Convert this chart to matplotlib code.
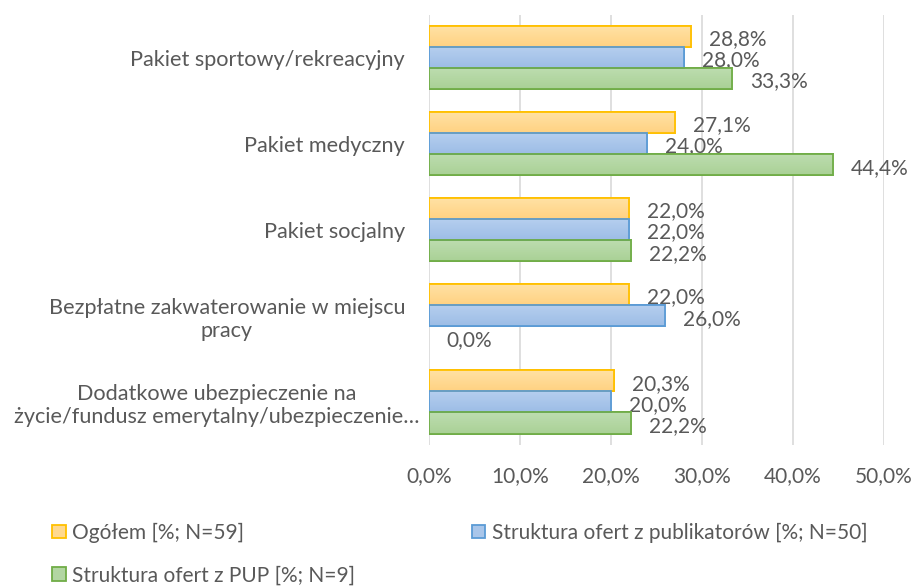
import numpy as np
import matplotlib.pyplot as plt
import matplotlib.transforms as mtransforms
from matplotlib.colors import LinearSegmentedColormap

plt.rcParams['font.family'] = ['Lato', 'DejaVu Sans']

categories = [
    'Pakiet sportowy/rekreacyjny',
    'Pakiet medyczny',
    'Pakiet socjalny',
    'Bezpłatne zakwaterowanie w miejscu\npracy',
    'Dodatkowe ubezpieczenie na\nżycie/fundusz emerytalny/ubezpieczenie…',
]
ogolem = [28.8, 27.1, 22.0, 22.0, 20.3]
publikatory = [28.0, 24.0, 22.0, 26.0, 20.0]
pup = [33.3, 44.4, 22.2, 0.0, 22.2]
series_names = ['Ogółem [%; N=59]',
                'Struktura ofert z publikatorów [%; N=50]',
                'Struktura ofert z PUP [%; N=9]']

# gradient: top colour -> bottom colour (Excel style)
grad_top = ['#FFE2A6', '#B6CFEF', '#BEDDB0']
grad_bot = ['#FFD282', '#9DBDE6', '#A9D196']
fills = ['#FFD98F', '#A9C6EA', '#B2D6A2']
edges = ['#FFC000', '#5B9BD5', '#70AD47']
txt = '#595959'
fs = 15

fig = plt.figure(figsize=(9.16, 5.87), dpi=100)
ax = fig.add_axes([0.468, 0.242, 0.497, 0.733])

y = np.arange(len(categories))
h = 0.245
all_series = [ogolem, publikatory, pup]
grad = np.linspace(0, 1, 64).reshape(-1, 1)
for i, vals in enumerate(all_series):
    pos = y + (i - 1) * h
    cmap = LinearSegmentedColormap.from_list(f'g{i}', [grad_top[i], grad_bot[i]])
    lw = [1.3 if v > 0 else 0 for v in vals]
    bars = ax.barh(pos, vals, height=h, color=fills[i], edgecolor=edges[i],
                   linewidth=lw, label=series_names[i], zorder=3)
    for b in bars:
        if b.get_width() <= 0:
            continue
        x0, y0 = b.get_x(), b.get_y()
        im = ax.imshow(grad, cmap=cmap, aspect='auto', origin='upper',
                       extent=(x0, x0 + b.get_width(), y0 + b.get_height(), y0),
                       zorder=3.5)
        im.set_clip_path(b)
        b2 = plt.Rectangle((x0, y0), b.get_width(), b.get_height(), fill=False,
                           edgecolor=edges[i], linewidth=1.3, zorder=4)
        ax.add_patch(b2)
    for p, v in zip(pos, vals):
        ax.annotate(f'{v:.1f}%'.replace('.', ','), (v, p), xytext=(13, -2),
                    textcoords='offset points', ha='left', va='center',
                    fontsize=fs, color=txt)

ax.set_ylim(len(categories) - 0.5, -0.5)
ax.set_xlim(0, 50)
ax.set_xticks(np.arange(0, 51, 10))
ax.set_xticklabels([f'{t:.1f}%'.replace('.', ',') for t in np.arange(0, 51, 10)])
ax.set_yticks(y)
ax.set_yticklabels(categories, multialignment='center', fontsize=15.6)
ax.tick_params(axis='both', length=0, colors=txt)
ax.tick_params(axis='x', pad=15, labelsize=fs)
ax.tick_params(axis='y', pad=17)
ax.grid(axis='x', color='#D9D9D9', linewidth=1.2, zorder=0)
for s in ax.spines.values():
    s.set_visible(False)

# the long wrapped label sits a bit closer to the axis in the original
last = ax.get_yticklabels()[-1]
last.set_transform(last.get_transform() +
                   mtransforms.ScaledTranslation(0.14, 0, fig.dpi_scale_trans))

handles, labels = ax.get_legend_handles_labels()
order = [0, 2, 1]
fig.legend([handles[k] for k in order], [labels[k] for k in order],
           loc='lower left', bbox_to_anchor=(0.048, -0.012),
           ncol=2, frameon=False, fontsize=fs, labelcolor=txt,
           handlelength=0.65, handleheight=0.65, handletextpad=0.3,
           columnspacing=5.6, borderaxespad=0.0, labelspacing=1.1)

fig.savefig('out.png', dpi=100)
